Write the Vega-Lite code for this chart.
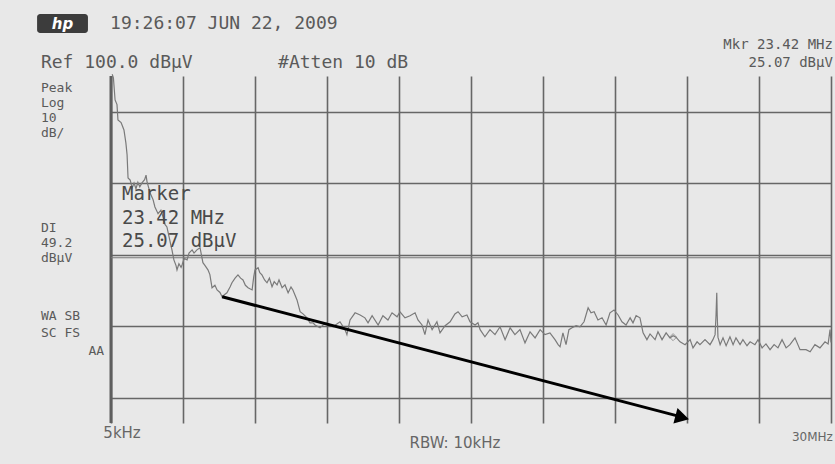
{
  "$schema": "https://vega.github.io/schema/vega-lite/v6.json",
  "width": 720,
  "height": 347,
  "autosize": {"type": "none"},
  "padding": {"left": 111, "top": 76, "right": 4, "bottom": 41},
  "background": "#e8e8e8",
  "config": {"view": {"stroke": null}},
  "datasets": {
    "trace": [
      {"f":0.05,"db":100.5},{"f":0.1,"db":99.5},{"f":0.17,"db":93.3},{"f":0.25,"db":92.0},{"f":0.29,"db":87.7},{"f":0.42,"db":87.0},{"f":0.46,"db":86.3},{"f":0.54,"db":84.9},{"f":0.62,"db":81.3},{"f":0.67,"db":78.0},{"f":0.71,"db":71.5},{"f":0.8,"db":70.9},{"f":0.88,"db":68.7},{"f":0.96,"db":70.1},{"f":1.04,"db":68.5},{"f":1.12,"db":70.3},{"f":1.2,"db":69.0},{"f":1.29,"db":70.1},{"f":1.4,"db":71.0},{"f":1.46,"db":72.3},{"f":1.5,"db":70.5},{"f":1.58,"db":68.5},{"f":1.63,"db":67.3},{"f":1.75,"db":65.5},{"f":1.83,"db":63.4},{"f":1.96,"db":61.5},{"f":2.08,"db":62.5},{"f":2.17,"db":60.6},{"f":2.25,"db":58.5},{"f":2.33,"db":57.8},{"f":2.42,"db":55.0},{"f":2.5,"db":52.5},{"f":2.54,"db":51.4},{"f":2.62,"db":48.6},{"f":2.71,"db":47.0},{"f":2.75,"db":45.8},{"f":2.83,"db":47.5},{"f":2.92,"db":46.5},{"f":2.96,"db":47.2},{"f":3.05,"db":49.0},{"f":3.17,"db":48.6},{"f":3.25,"db":50.5},{"f":3.38,"db":51.4},{"f":3.46,"db":50.5},{"f":3.58,"db":51.4},{"f":3.71,"db":52.0},{"f":3.83,"db":47.8},{"f":3.92,"db":47.0},{"f":4.04,"db":45.8},{"f":4.12,"db":44.5},{"f":4.21,"db":40.8},{"f":4.33,"db":41.5},{"f":4.42,"db":40.2},{"f":4.54,"db":39.5},{"f":4.63,"db":38.3},{"f":4.75,"db":39.0},{"f":4.83,"db":39.4},{"f":4.96,"db":41.0},{"f":5.04,"db":42.2},{"f":5.17,"db":43.5},{"f":5.29,"db":44.4},{"f":5.4,"db":43.5},{"f":5.5,"db":43.0},{"f":5.6,"db":41.5},{"f":5.71,"db":40.8},{"f":5.88,"db":40.2},{"f":5.95,"db":44.0},{"f":6.0,"db":45.8},{"f":6.13,"db":46.4},{"f":6.2,"db":45.0},{"f":6.29,"db":44.4},{"f":6.4,"db":43.0},{"f":6.5,"db":42.2},{"f":6.6,"db":43.5},{"f":6.71,"db":41.1},{"f":6.8,"db":42.5},{"f":6.92,"db":41.6},{"f":7.0,"db":43.0},{"f":7.13,"db":40.8},{"f":7.25,"db":41.6},{"f":7.38,"db":39.4},{"f":7.5,"db":41.0},{"f":7.58,"db":40.2},{"f":7.75,"db":37.4},{"f":7.88,"db":34.1},{"f":8.0,"db":33.5},{"f":8.17,"db":32.4},{"f":8.29,"db":31.0},{"f":8.42,"db":31.0},{"f":8.5,"db":30.4},{"f":8.71,"db":29.6},{"f":8.85,"db":30.5},{"f":9.0,"db":31.0},{"f":9.25,"db":29.9},{"f":9.54,"db":31.3},{"f":9.75,"db":29.1},{"f":9.83,"db":27.7},{"f":9.96,"db":31.8},{"f":10.17,"db":33.8},{"f":10.38,"db":33.2},{"f":10.58,"db":32.4},{"f":10.71,"db":31.0},{"f":10.88,"db":33.0},{"f":11.13,"db":30.4},{"f":11.33,"db":33.0},{"f":11.54,"db":31.8},{"f":11.71,"db":33.8},{"f":11.92,"db":32.7},{"f":12.04,"db":34.1},{"f":12.25,"db":32.4},{"f":12.46,"db":33.0},{"f":12.67,"db":33.8},{"f":12.79,"db":31.8},{"f":12.96,"db":30.4},{"f":13.08,"db":27.7},{"f":13.21,"db":31.8},{"f":13.38,"db":29.1},{"f":13.58,"db":31.3},{"f":13.71,"db":28.2},{"f":13.92,"db":30.2},{"f":14.13,"db":31.3},{"f":14.33,"db":33.5},{"f":14.46,"db":34.1},{"f":14.63,"db":32.7},{"f":14.83,"db":33.2},{"f":14.96,"db":31.3},{"f":15.17,"db":30.4},{"f":15.29,"db":31.0},{"f":15.38,"db":29.1},{"f":15.58,"db":27.1},{"f":15.79,"db":29.1},{"f":16.0,"db":27.7},{"f":16.21,"db":29.9},{"f":16.42,"db":26.3},{"f":16.63,"db":29.6},{"f":16.83,"db":27.7},{"f":17.04,"db":29.1},{"f":17.25,"db":25.4},{"f":17.46,"db":28.5},{"f":17.67,"db":26.8},{"f":17.88,"db":29.1},{"f":18.08,"db":27.7},{"f":18.29,"db":28.2},{"f":18.5,"db":26.3},{"f":18.63,"db":24.9},{"f":18.71,"db":24.3},{"f":18.83,"db":28.2},{"f":18.96,"db":24.9},{"f":19.08,"db":29.1},{"f":19.21,"db":29.6},{"f":19.38,"db":30.2},{"f":19.54,"db":29.9},{"f":19.71,"db":31.3},{"f":19.88,"db":35.2},{"f":20.0,"db":33.8},{"f":20.13,"db":34.1},{"f":20.29,"db":31.8},{"f":20.46,"db":32.4},{"f":20.63,"db":30.4},{"f":20.79,"db":33.8},{"f":20.96,"db":34.6},{"f":21.13,"db":33.2},{"f":21.29,"db":31.3},{"f":21.46,"db":30.4},{"f":21.63,"db":32.4},{"f":21.75,"db":31.0},{"f":21.88,"db":33.0},{"f":22.04,"db":32.4},{"f":22.17,"db":28.2},{"f":22.33,"db":26.3},{"f":22.46,"db":27.9},{"f":22.67,"db":26.3},{"f":22.79,"db":28.5},{"f":22.96,"db":26.3},{"f":23.13,"db":28.2},{"f":23.29,"db":26.8},{"f":23.42,"db":27.4},{"f":23.54,"db":27.0},{"f":23.71,"db":25.7},{"f":23.92,"db":24.9},{"f":24.13,"db":26.3},{"f":24.25,"db":24.0},{"f":24.42,"db":25.7},{"f":24.54,"db":24.9},{"f":24.75,"db":26.3},{"f":24.96,"db":24.9},{"f":25.08,"db":26.3},{"f":25.17,"db":27.7},{"f":25.21,"db":33.2},{"f":25.24,"db":39.4},{"f":25.26,"db":33.0},{"f":25.29,"db":27.0},{"f":25.38,"db":24.9},{"f":25.5,"db":26.8},{"f":25.63,"db":24.6},{"f":25.79,"db":27.1},{"f":25.92,"db":24.9},{"f":26.04,"db":26.8},{"f":26.21,"db":24.9},{"f":26.33,"db":26.3},{"f":26.5,"db":24.6},{"f":26.63,"db":25.7},{"f":26.83,"db":24.9},{"f":26.96,"db":26.3},{"f":27.13,"db":24.0},{"f":27.29,"db":25.1},{"f":27.46,"db":23.5},{"f":27.63,"db":24.9},{"f":27.79,"db":24.0},{"f":27.96,"db":26.3},{"f":28.13,"db":24.0},{"f":28.29,"db":24.9},{"f":28.5,"db":26.8},{"f":28.71,"db":23.5},{"f":28.96,"db":23.5},{"f":29.13,"db":22.9},{"f":29.33,"db":24.9},{"f":29.54,"db":24.0},{"f":29.75,"db":25.7},{"f":29.88,"db":25.1},{"f":29.96,"db":29.1},{"f":30.0,"db":25.5}
    ],
    "labels": [
      {"t":"19:26:07 JUN 22, 2009","f":-0.04,"db":114.6,"k":"hdr"},
      {"t":"Ref 100.0 dBµV","f":-2.92,"db":103.6,"k":"hdr"},
      {"t":"#Atten 10 dB","f":6.96,"db":103.6,"k":"hdr"},
      {"t":"Peak","f":-2.92,"db":96.6,"k":"side"},
      {"t":"Log","f":-2.92,"db":92.4,"k":"side"},
      {"t":"10","f":-2.92,"db":88.3,"k":"side"},
      {"t":"dB/","f":-2.92,"db":84.2,"k":"side"},
      {"t":"DI","f":-2.92,"db":57.5,"k":"side"},
      {"t":"49.2","f":-2.92,"db":53.4,"k":"side"},
      {"t":"dBµV","f":-2.92,"db":49.2,"k":"side"},
      {"t":"WA SB","f":-2.92,"db":33.0,"k":"side"},
      {"t":"SC FS","f":-2.92,"db":28.2,"k":"side"},
      {"t":"AA","f":-0.29,"db":23.2,"k":"sideR"},
      {"t":"Mkr 23.42 MHz","f":30.08,"db":108.7,"k":"right"},
      {"t":"25.07 dBµV","f":30.08,"db":103.6,"k":"right"},
      {"t":"Marker","f":0.46,"db":67.0,"k":"mkr"},
      {"t":"23.42  MHz","f":0.46,"db":60.4,"k":"mkr"},
      {"t":"25.07  dBµV","f":0.46,"db":54.0,"k":"mkr"},
      {"t":"5kHz","f":0.46,"db":0.3,"k":"hand"},
      {"t":"RBW: 10kHz","f":14.33,"db":-2.5,"k":"hand"},
      {"t":"30MHz","f":30.08,"db":-0.8,"k":"handR"}
    ]
  },
  "layer": [
    {
      "data": {"name": "trace"},
      "mark": {"type": "line", "color": "#7a7a7a", "strokeWidth": 1.2, "interpolate": "linear"},
      "encoding": {
        "x": {"field": "f", "type": "quantitative",
          "scale": {"domain": [0, 30], "nice": false, "zero": false},
          "axis": {"values": [0,3,6,9,12,15,18,21,24,27,30], "grid": true, "gridColor": "#666666", "gridWidth": 1.6, "gridOpacity": 1, "domain": false, "ticks": false, "labels": false, "title": null}},
        "y": {"field": "db", "type": "quantitative",
          "scale": {"domain": [3, 100], "nice": false, "zero": false},
          "axis": {"values": [10,20,30,40,50,60,70,80,90,100], "grid": true, "gridColor": "#666666", "gridWidth": 1.6, "gridOpacity": 1, "domain": false, "ticks": false, "labels": false, "title": null}}
      }
    },
    {
      "data": {"values": [{"x": 0}]},
      "mark": {"type": "rule", "color": "#5e5e5e", "strokeWidth": 3},
      "encoding": {"x": {"field": "x", "type": "quantitative"}}
    },
    {
      "data": {"values": [{"di": 49.2}]},
      "mark": {"type": "rule", "color": "#7a7a7a", "strokeWidth": 1.2},
      "encoding": {"y": {"field": "di", "type": "quantitative"}}
    },
    {
      "data": {"values": [{"f": 23.42, "db": 27.0}]},
      "mark": {"type": "point", "shape": "diamond", "filled": false, "color": "#7a7a7a", "size": 50, "strokeWidth": 1},
      "encoding": {"x": {"field": "f", "type": "quantitative"}, "y": {"field": "db", "type": "quantitative"}}
    },
    {
      "data": {"values": [{"f": 4.63, "db": 38.3, "f2": 23.6, "db2": 5.0}]},
      "mark": {"type": "rule", "color": "#000000", "strokeWidth": 3},
      "encoding": {
        "x": {"field": "f", "type": "quantitative"}, "y": {"field": "db", "type": "quantitative"},
        "x2": {"field": "f2"}, "y2": {"field": "db2"}
      }
    },
    {
      "data": {"values": [{"f": 23.8, "db": 4.55}]},
      "mark": {"type": "point", "shape": "triangle-right", "filled": true, "color": "#000000", "size": 260, "angle": 14.7, "opacity": 1},
      "encoding": {"x": {"field": "f", "type": "quantitative"}, "y": {"field": "db", "type": "quantitative"}}
    },
    {
      "data": {"values": [{"f": -3.08, "f2": -0.96, "db": 117.3, "db2": 112.0}]},
      "mark": {"type": "rect", "color": "#3c3c3c", "cornerRadius": 3},
      "encoding": {
        "x": {"field": "f", "type": "quantitative"}, "x2": {"field": "f2"},
        "y": {"field": "db", "type": "quantitative"}, "y2": {"field": "db2"}
      }
    },
    {
      "data": {"values": [{"t": "hp", "f": -2.02, "db": 114.6}]},
      "mark": {"type": "text", "color": "#ffffff", "font": "DejaVu Sans", "fontSize": 15, "fontStyle": "italic", "fontWeight": "bold", "baseline": "middle", "align": "center"},
      "encoding": {"x": {"field": "f", "type": "quantitative"}, "y": {"field": "db", "type": "quantitative"}, "text": {"field": "t"}}
    },
    {
      "data": {"name": "labels"},
      "transform": [{"filter": "datum.k === 'hdr'"}],
      "mark": {"type": "text", "color": "#5a5a5a", "font": "DejaVu Sans Mono", "fontSize": 18, "baseline": "middle", "align": "left"},
      "encoding": {"x": {"field": "f", "type": "quantitative"}, "y": {"field": "db", "type": "quantitative"}, "text": {"field": "t"}}
    },
    {
      "data": {"name": "labels"},
      "transform": [{"filter": "datum.k === 'side'"}],
      "mark": {"type": "text", "color": "#5a5a5a", "font": "DejaVu Sans Mono", "fontSize": 13, "baseline": "middle", "align": "left"},
      "encoding": {"x": {"field": "f", "type": "quantitative"}, "y": {"field": "db", "type": "quantitative"}, "text": {"field": "t"}}
    },
    {
      "data": {"name": "labels"},
      "transform": [{"filter": "datum.k === 'sideR'"}],
      "mark": {"type": "text", "color": "#5a5a5a", "font": "DejaVu Sans Mono", "fontSize": 13, "baseline": "middle", "align": "right"},
      "encoding": {"x": {"field": "f", "type": "quantitative"}, "y": {"field": "db", "type": "quantitative"}, "text": {"field": "t"}}
    },
    {
      "data": {"name": "labels"},
      "transform": [{"filter": "datum.k === 'right'"}],
      "mark": {"type": "text", "color": "#5a5a5a", "font": "DejaVu Sans Mono", "fontSize": 14, "baseline": "middle", "align": "right"},
      "encoding": {"x": {"field": "f", "type": "quantitative"}, "y": {"field": "db", "type": "quantitative"}, "text": {"field": "t"}}
    },
    {
      "data": {"name": "labels"},
      "transform": [{"filter": "datum.k === 'mkr'"}],
      "mark": {"type": "text", "color": "#4a4a4a", "font": "DejaVu Sans Mono", "fontSize": 19, "baseline": "middle", "align": "left"},
      "encoding": {"x": {"field": "f", "type": "quantitative"}, "y": {"field": "db", "type": "quantitative"}, "text": {"field": "t"}}
    },
    {
      "data": {"name": "labels"},
      "transform": [{"filter": "datum.k === 'hand'"}],
      "mark": {"type": "text", "color": "#666666", "font": "DejaVu Sans", "fontSize": 15, "baseline": "middle", "align": "center"},
      "encoding": {"x": {"field": "f", "type": "quantitative"}, "y": {"field": "db", "type": "quantitative"}, "text": {"field": "t"}}
    },
    {
      "data": {"name": "labels"},
      "transform": [{"filter": "datum.k === 'handR'"}],
      "mark": {"type": "text", "color": "#666666", "font": "DejaVu Sans", "fontSize": 12, "baseline": "middle", "align": "right"},
      "encoding": {"x": {"field": "f", "type": "quantitative"}, "y": {"field": "db", "type": "quantitative"}, "text": {"field": "t"}}
    }
  ]
}
